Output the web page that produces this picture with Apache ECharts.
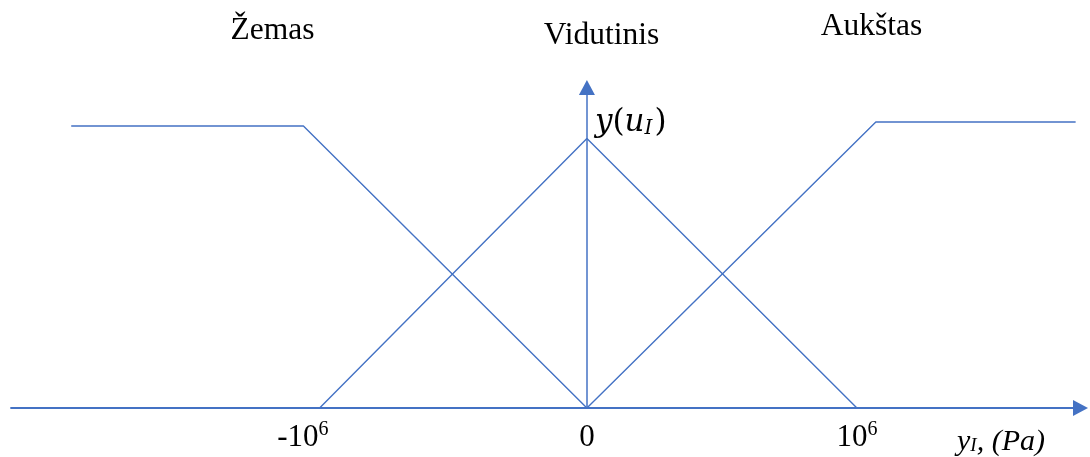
<!DOCTYPE html>
<html>
<head>
<meta charset="utf-8">
<script src="https://cdn.jsdelivr.net/npm/echarts@6/dist/echarts.min.js"></script>
<style>
  html, body { margin: 0; padding: 0; background: #fff; }
  #chart { width: 1090px; height: 457px; }
</style>
</head>
<body>
<div id="chart"></div>
<script>
// Fuzzy membership functions of the pressure error y_I, Pa
const setNames = ['Žemas', 'Vidutinis', 'Aukštas'];

const zemasX = [-1.91e6, -1.05e6, 0];
const zemasY = [1.0, 1.0, 0];

const vidutinisX = [-0.99e6, 0, 1.0e6];
const vidutinisY = [0, 0.956, 0];

const aukstasX = [0, 1.07e6, 1.81e6];
const aukstasY = [0, 1.014, 1.014];

const tickValues = [-1e6, 0, 1e6];
const tickLabels = ['-10^6', '0', '10^6'];

const xName = 'y_I, (Pa)';
const yName = 'y(u_I)';

// axis extent
const xMin = -2.133e6, xMax = 1.828e6;
const yMin = 0, yMax = 1.1365;

const BLUE = '#4472C4';
const SERIF = '"Liberation Serif", "Times New Roman", serif';
const MATH = '"DejaVu Serif", serif';

function pairs(xs, ys) { return xs.map((x, i) => [x, ys[i]]); }

function tickFormatter(v) {
  const i = tickValues.findIndex(t => Math.abs(t - v) < 1);
  if (i < 0) return '';
  const [base, exp] = tickLabels[i].split('^');
  if (!exp) return '{m|' + base + '}';
  return '{m|' + base + '}{' + (base.startsWith('-') ? 'sn' : 's') + '|' + exp + '}';
}

function lineSeries(name, xs, ys) {
  return {
    name, type: 'line', data: pairs(xs, ys),
    symbol: 'none', silent: true,
    lineStyle: { color: BLUE, width: 1.4 }
  };
}

const chart = echarts.init(document.getElementById('chart'), null, { renderer: 'canvas' });
chart.setOption({
  animation: false,
  backgroundColor: '#fff',
  grid: { left: 11, right: 9.5, top: 87.5, bottom: 49, containLabel: false, outerBoundsMode: 'none' },
  xAxis: {
    type: 'value', min: xMin, max: xMax,
    axisLine: {
      show: true, onZero: true,
      symbol: ['none', 'triangle'], symbolSize: [16, 15],
      lineStyle: { color: BLUE, width: 1.8 }
    },
    axisTick: { show: false },
    splitLine: { show: false },
    axisLabel: {
      customValues: tickValues,
      formatter: tickFormatter,
      margin: 12,
      color: '#000',
      verticalAlign: 'top',
      rich: {
        m: { fontFamily: SERIF, fontSize: 31, lineHeight: 36, color: '#000' },
        s: { fontFamily: SERIF, fontSize: 20, lineHeight: 20, color: '#000', padding: [0, 0, 16, 0] },
        sn: { fontFamily: SERIF, fontSize: 20, lineHeight: 20, color: '#000', padding: [0, 28, 16, 0] }
      }
    }
  },
  yAxis: {
    type: 'value', min: yMin, max: yMax,
    axisLine: {
      show: true, onZero: true,
      symbol: ['none', 'triangle'], symbolSize: [16, 15],
      lineStyle: { color: BLUE, width: 1.5 }
    },
    axisTick: { show: false },
    splitLine: { show: false },
    axisLabel: { show: false }
  },
  series: [
    lineSeries(setNames[0], zemasX, zemasY),
    lineSeries(setNames[1], vidutinisX, vidutinisY),
    lineSeries(setNames[2], aukstasX, aukstasY)
  ],
  graphic: [
    { type: 'text', x: 272.5, y: 31, style: { text: setNames[0], font: '31.5px ' + SERIF, fill: '#000', align: 'center', verticalAlign: 'middle' } },
    { type: 'text', x: 601.5, y: 36, style: { text: setNames[1], font: '31.5px ' + SERIF, fill: '#000', align: 'center', verticalAlign: 'middle' } },
    { type: 'text', x: 871.5, y: 27, style: { text: setNames[2], font: '31.5px ' + SERIF, fill: '#000', align: 'center', verticalAlign: 'middle' } },
    {
      type: 'text', x: 595, y: 123,
      style: {
        text: (() => { const [a, b] = yName.split('_'); return '{i|' + a.slice(0, 1) + '}{r|(}{i|' + a.slice(2) + '}{sub|' + b.slice(0, 1) + '}{r|)}'; })(),
        align: 'left', verticalAlign: 'middle',
        rich: {
          i: { font: 'italic 31px ' + MATH, fill: '#000' },
          r: { font: '31px ' + MATH, fill: '#000' },
          sub: { font: 'italic 20px ' + MATH, fill: '#000', padding: [11, 2, 0, 0] }
        }
      }
    },
    {
      type: 'text', x: 957, y: 442,
      style: {
        text: (() => { const [a, b] = xName.split('_'); return '{i|' + a + '}{sub|' + b.slice(0, 1) + '}{i|' + b.slice(1) + '}'; })(),
        align: 'left', verticalAlign: 'middle',
        rich: {
          i: { font: 'italic 30px ' + SERIF, fill: '#000' },
          sub: { font: 'italic 19px ' + SERIF, fill: '#000', padding: [8, 0, 0, 0] }
        }
      }
    }
  ]
});
</script>
</body>
</html>
